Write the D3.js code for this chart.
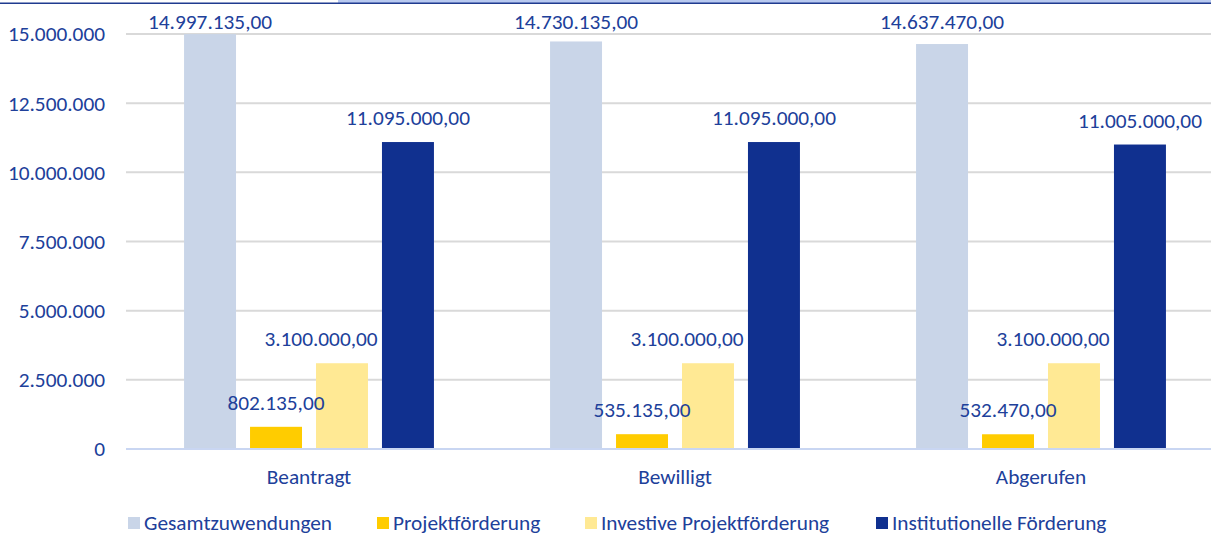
<!DOCTYPE html>
<html>
<head>
<meta charset="utf-8">
<script src="https://cdn.jsdelivr.net/npm/d3@7"></script>
<style>
  body { margin: 0; background: #fff; }
  text { font-family: Carlito, Calibri, "Open Sans", sans-serif; }
</style>
</head>
<body>
<svg id="chart"></svg>
<script>
// categories and series
const categories = ["Beantragt", "Bewilligt", "Abgerufen"];
const seriesNames = ["Gesamtzuwendungen", "Projektförderung", "Investive Projektförderung", "Institutionelle Förderung"];
const gesamt = [14997135, 14730135, 14637470];
const projekt = [802135, 535135, 532470];
const investiv = [3100000, 3100000, 3100000];
const institutionell = [11095000, 11095000, 11005000];
const yTicks = [0, 2500000, 5000000, 7500000, 10000000, 12500000, 15000000];

const colors = ["#c9d5e8", "#ffcc00", "#ffe994", "#10308f"];
const textColor = "#20409a";
const fontSize = 21.3;

const width = 1211, height = 536;
const margin = {left: 126, right: -13, top: 34, bottom: 87};

const de = d3.formatLocale({decimal: ",", thousands: ".", grouping: [3], currency: ["", "€"]});
const fmtVal = de.format(",.2f");
const fmtTick = de.format(",.0f");

const svg = d3.select("#chart")
    .attr("width", width)
    .attr("height", height);

// decoration strip at the very top
svg.append("rect").attr("x", 338).attr("y", 0).attr("width", width - 338).attr("height", 3).attr("fill", "#b8c9f0");
svg.append("rect").attr("x", 0).attr("y", 2.5).attr("width", width).attr("height", 1.5).attr("fill", "#1f3b8f");

const x0 = d3.scaleBand().domain(categories).range([margin.left, width - margin.right]).padding(0);
const x1 = d3.scaleBand().domain(seriesNames).range([0, x0.bandwidth()]).paddingInner(14 / 66).paddingOuter(0.88);
const y = d3.scaleLinear().domain([0, 15000000]).range([height - margin.bottom, margin.top]);

// gridlines
svg.selectAll("line.grid")
    .data(yTicks.slice(1))
    .join("line")
    .attr("class", "grid")
    .attr("x1", margin.left)
    .attr("x2", width)
    .attr("y1", d => y(d))
    .attr("y2", d => y(d))
    .attr("stroke", "#d9d9d9")
    .attr("stroke-width", 2);

// y tick labels
svg.selectAll("text.ytick")
    .data(yTicks)
    .join("text")
    .attr("class", "ytick")
    .attr("x", 105)
    .attr("y", d => y(d))
    .attr("dy", "0.35em")
    .attr("text-anchor", "end")
    .attr("font-size", fontSize)
    .attr("fill", textColor)
    .text(d => fmtTick(d));

const data = [gesamt, projekt, investiv, institutionell];
const rows = [];
categories.forEach((c, i) => {
    seriesNames.forEach((s, j) => {
        rows.push({cat: c, series: s, idx: j, value: data[j][i]});
    });
});

// bars
svg.selectAll("rect.bar")
    .data(rows)
    .join("rect")
    .attr("class", "bar")
    .attr("x", d => x0(d.cat) + x1(d.series))
    .attr("y", d => y(d.value))
    .attr("width", x1.bandwidth())
    .attr("height", d => y(0) - y(d.value))
    .attr("fill", d => colors[d.idx]);

// baseline
svg.append("line")
    .attr("x1", margin.left).attr("x2", width)
    .attr("y1", y(0)).attr("y2", y(0))
    .attr("stroke", "#c9d6f2")
    .attr("stroke-width", 2);

// value labels
svg.selectAll("text.val")
    .data(rows)
    .join("text")
    .attr("class", "val")
    .attr("x", d => x0(d.cat) + x1(d.series) + x1.bandwidth() / 2 + (d.idx === 2 ? -21 : 0))
    .attr("y", d => Math.max(y(d.value) - 17, 29))
    .attr("text-anchor", "middle")
    .attr("font-size", fontSize)
    .attr("fill", textColor)
    .text(d => fmtVal(d.value));

// x category labels
svg.selectAll("text.xlab")
    .data(categories)
    .join("text")
    .attr("class", "xlab")
    .attr("x", d => x0(d) + x0.bandwidth() / 2)
    .attr("y", 484)
    .attr("text-anchor", "middle")
    .attr("font-size", fontSize)
    .attr("fill", textColor)
    .text(d => d);

// legend
const legendX = [128, 377, 585, 876];
const legend = svg.selectAll("g.legend")
    .data(seriesNames)
    .join("g")
    .attr("class", "legend")
    .attr("transform", (d, i) => "translate(" + legendX[i] + ",517)");
legend.append("rect")
    .attr("width", 12).attr("height", 12)
    .attr("fill", (d, i) => colors[i]);
legend.append("text")
    .attr("x", 16)
    .attr("y", 13)
    .attr("font-size", fontSize)
    .attr("fill", textColor)
    .text(d => d);
</script>
</body>
</html>
